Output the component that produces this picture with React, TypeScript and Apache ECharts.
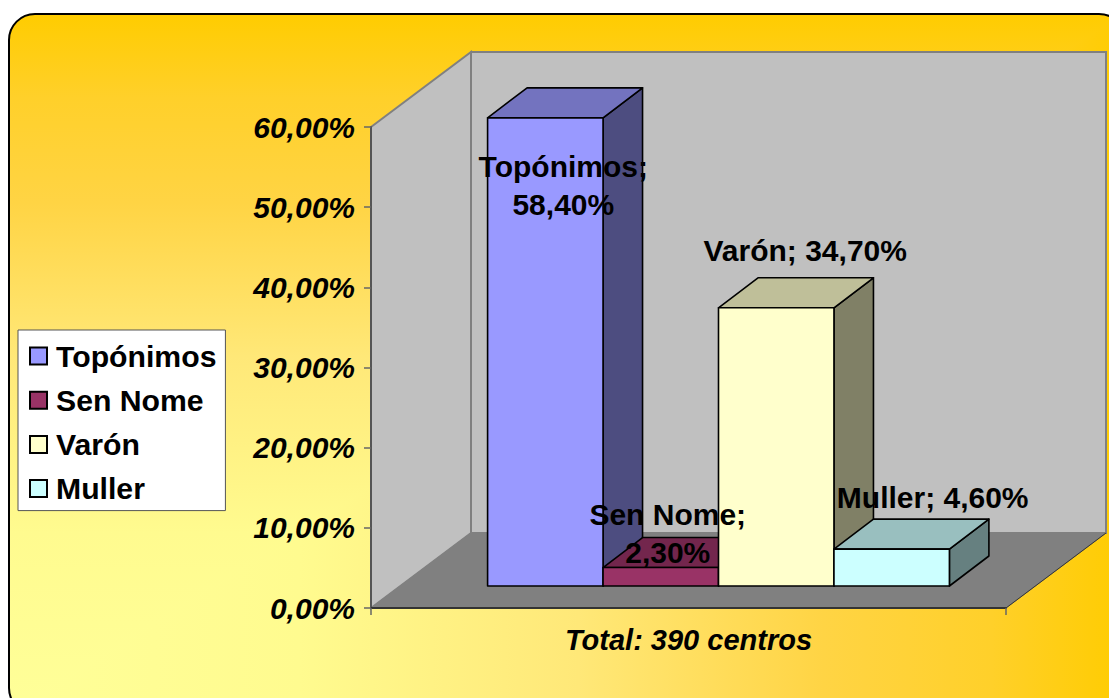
import React, { useEffect, useRef } from "react";
import * as echarts from "echarts";

const categories = ["Total: 390 centros"];
const seriesNames = ["Topónimos", "Sen Nome", "Varón", "Muller"];
const seriesValues = [58.4, 2.3, 34.7, 4.6];
const yTicks = { min: 0, max: 60, interval: 10 };

const FONT = '"Liberation Sans", Arial, sans-serif';
const pct = (v: number) => v.toFixed(2).replace(".", ",") + "%";

// Drawing style, per series
const faceColors = [
  { front: "#9999FF", top: "#7373BF", side: "#4D4D80" },
  { front: "#993366", top: "#73264D", side: "#4D1A33" },
  { front: "#FFFFCC", top: "#BFBF99", side: "#808066" },
  { front: "#CCFFFF", top: "#99BFBF", side: "#668080" },
];
const labelLayout = [
  { dx: 18, dy: 68, sep: "\n" },
  { dx: 7, dy: -34, sep: "\n" },
  { dx: 29, dy: -57, sep: " " },
  { dx: 41, dy: -52, sep: " " },
];
// Background gradient, from the pale bottom-left corner out to gold
const bgStops = [
  { offset: 0, color: "#FFFF99" },
  { offset: 0.26, color: "#FFFB8F" },
  { offset: 0.51, color: "#FFE878" },
  { offset: 0.73, color: "#FFD444" },
  { offset: 0.88, color: "#FFD02A" },
  { offset: 1, color: "#FFCC00" },
];

// 3D projection in pixels
const WALL_DX = 100;
const WALL_DY = -75;
const BAR_SHIFT_X = 30;
const BAR_SHIFT_Y = -22;
const BAR_DX = 39.5;
const BAR_DY = -30;
const GAP = 1.5;

function barBox(i: number, params: any, api: any) {
  const cs = params.coordSys;
  const bw = cs.width / (seriesNames.length + GAP);
  const x0 = cs.x + (GAP / 2 + i) * bw + BAR_SHIFT_X;
  const yBase = api.coord([0, 0])[1] + BAR_SHIFT_Y;
  const yTop = api.coord([0, api.value(1)])[1] + BAR_SHIFT_Y;
  return { x0, x1: x0 + bw, yBase, yTop };
}

function renderBar(i: number) {
  return (params: any, api: any) => {
    const { x0, x1, yBase, yTop } = barBox(i, params, api);
    const c = faceColors[i];
    const line = { stroke: "#000", lineWidth: 1.6, lineJoin: "round" };
    return {
      type: "group",
      children: [
        {
          type: "polygon",
          shape: { points: [[x1, yTop], [x1 + BAR_DX, yTop + BAR_DY], [x1 + BAR_DX, yBase + BAR_DY], [x1, yBase]] },
          style: { fill: c.side, ...line },
        },
        {
          type: "polygon",
          shape: { points: [[x0, yTop], [x0 + BAR_DX, yTop + BAR_DY], [x1 + BAR_DX, yTop + BAR_DY], [x1, yTop]] },
          style: { fill: c.top, ...line },
        },
        {
          type: "polygon",
          shape: { points: [[x0, yTop], [x1, yTop], [x1, yBase], [x0, yBase]] },
          style: { fill: c.front, ...line },
        },
      ],
    };
  };
}

function renderWalls(params: any, api: any) {
  const cs = params.coordSys;
  const x0 = cs.x;
  const x1 = cs.x + cs.width;
  const yB = api.coord([0, yTicks.min])[1];
  const yT = api.coord([0, yTicks.max])[1];
  const wall = { fill: "#C0C0C0", stroke: "#808080", lineWidth: 2 };
  return {
    type: "group",
    children: [
      {
        type: "polygon",
        shape: { points: [[x0 + WALL_DX, yT + WALL_DY], [x1 + WALL_DX, yT + WALL_DY], [x1 + WALL_DX, yB + WALL_DY], [x0 + WALL_DX, yB + WALL_DY]] },
        style: wall,
      },
      {
        type: "polygon",
        shape: { points: [[x0, yT], [x0 + WALL_DX, yT + WALL_DY], [x0 + WALL_DX, yB + WALL_DY], [x0, yB]] },
        style: wall,
      },
      {
        type: "polygon",
        shape: { points: [[x0, yB], [x1, yB], [x1 + WALL_DX, yB + WALL_DY], [x0 + WALL_DX, yB + WALL_DY]] },
        style: { fill: "#808080", stroke: "#808080", lineWidth: 1 },
      },
      {
        type: "line",
        shape: { x1, y1: yB, x2: x1 + WALL_DX, y2: yB + WALL_DY },
        style: { stroke: "#333", lineWidth: 1 },
      },
    ],
  };
}

function renderLabel(params: any, api: any) {
  const i = params.dataIndex;
  const { x0, x1, yTop } = barBox(i, params, api);
  const l = labelLayout[i];
  return {
    type: "text",
    style: {
      text: `${seriesNames[i]};${l.sep}${pct(seriesValues[i])}`,
      x: (x0 + x1) / 2 + l.dx,
      y: yTop + l.dy,
      font: `bold 30px ${FONT}`,
      lineHeight: 38,
      fill: "#000",
      align: "center",
      verticalAlign: "middle",
    },
  };
}

export default function App() {
  const ref = useRef<HTMLDivElement>(null);

  useEffect(() => {
    document.body.style.margin = "0";
    document.body.style.overflow = "hidden";
    const chart = echarts.init(ref.current!, undefined, { renderer: "svg" });
    const bgBox = { x: 9, y: 14, width: 1116, height: 700 };
    chart.setOption({
      animation: false,
      backgroundColor: "#FFFFFF",
      graphic: [
        {
          type: "rect",
          z: -3,
          silent: true,
          shape: { ...bgBox, r: 26 },
          style: {
            fill: new echarts.graphic.LinearGradient(0, 1, 0, 0, bgStops),
          },
        },
        {
          type: "polygon",
          z: -2,
          silent: true,
          shape: {
            points: [
              [bgBox.x, bgBox.y + bgBox.height],
              [bgBox.x + bgBox.width, bgBox.y],
              [bgBox.x + bgBox.width, bgBox.y + bgBox.height],
            ],
          },
          style: {
            fill: new echarts.graphic.LinearGradient(0, 0, 1, 0, bgStops),
          },
        },
        {
          type: "rect",
          z: -1,
          silent: true,
          shape: { ...bgBox, r: 26 },
          style: { fill: "none", stroke: "#000", lineWidth: 2 },
        },
      ],
      legend: {
        orient: "vertical",
        left: 18,
        top: 330,
        data: seriesNames,
        backgroundColor: "#FFFFFF",
        borderColor: "#555",
        borderWidth: 1,
        padding: [11, 9, 7, 11],
        itemWidth: 17,
        itemHeight: 17,
        itemGap: 14.2,
        icon: "rect",
        selectedMode: false,
        textStyle: { fontFamily: FONT, fontWeight: "bold", fontSize: 30.2, lineHeight: 30, color: "#000", padding: [0, 0, 0, 4] },
      },
      grid: { left: 371, top: 127, right: 103, bottom: 90, containLabel: false },
      xAxis: {
        type: "category",
        data: categories,
        z: 1,
        axisLine: { lineStyle: { color: "#333", width: 2 } },
        axisTick: { show: true, length: 7, lineStyle: { color: "#666", width: 1.5 } },
        axisLabel: { margin: 17, fontFamily: FONT, fontWeight: "bold", fontStyle: "italic", fontSize: 29, color: "#000" },
      },
      yAxis: {
        type: "value",
        min: yTicks.min,
        max: yTicks.max,
        interval: yTicks.interval,
        z: 1,
        splitLine: { show: false },
        axisLine: { show: true, lineStyle: { color: "#555", width: 2 } },
        axisTick: { show: true, length: 7, lineStyle: { color: "#666", width: 1.5 } },
        axisLabel: {
          margin: 16,
          formatter: (v: number) => pct(v),
          fontFamily: FONT,
          fontWeight: "bold",
          fontStyle: "italic",
          fontSize: 30,
          color: "#000",
        },
      },
      series: [
        { type: "custom", name: "walls", z: 0, silent: true, renderItem: renderWalls, data: [[0, yTicks.max]] },
        ...seriesNames.map((name, i) => ({
          type: "custom",
          name,
          z: 2,
          silent: true,
          renderItem: renderBar(i),
          itemStyle: { color: faceColors[i].front, borderColor: "#000", borderWidth: 1.6 },
          data: [[0, seriesValues[i]]],
        })),
        {
          type: "custom",
          name: "labels",
          z: 3,
          silent: true,
          renderItem: renderLabel,
          data: seriesValues.map((v) => [0, v]),
        },
      ],
    });
    return () => chart.dispose();
  }, []);

  return <div ref={ref} style={{ width: 1109, height: 698 }} />;
}
